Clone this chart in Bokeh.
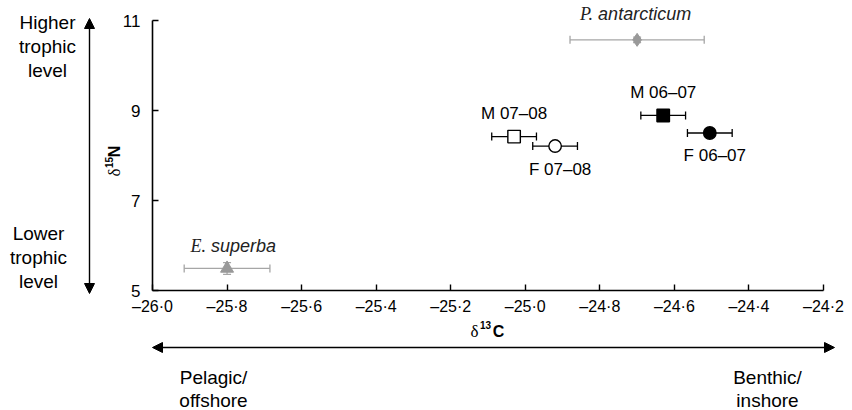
import math
from bokeh.plotting import figure
from bokeh.models import (ColumnDataSource, Whisker, TeeHead, Label, Arrow,
                          NormalHead, FixedTicker, Range1d)
from bokeh.embed import file_html
from bokeh.resources import INLINE

# Mean stable isotope values (± SE) for seals by sex and season
groups = ["M 07–08", "F 07–08", "M 06–07", "F 06–07"]
d13c = [-25.03, -24.92, -24.63, -24.505]
d15n = [8.42, 8.21, 8.89, 8.50]
d13c_err = [0.06, 0.06, 0.06, 0.06]
d15n_err = [0.06, 0.06, 0.06, 0.06]
markers = ["square", "circle", "square", "circle"]
fills = ["white", "white", "black", "black"]

# Prey species (genus initial, species name)
prey_genus = ["E.", "P."]
prey_species = ["superba", "antarcticum"]
prey_d13c = [-25.80, -24.70]
prey_d15n = [5.49, 10.57]
prey_d13c_err = [0.115, 0.18]
prey_d15n_err = [0.13, 0.06]
prey_markers = ["triangle", "diamond"]

x_ticks = [-26.0, -25.8, -25.6, -25.4, -25.2, -25.0, -24.8, -24.6, -24.4, -24.2]
x_tick_labels = ["–26·0", "–25·8", "–25·6", "–25·4", "–25·2",
                 "–25·0", "–24·8", "–24·6", "–24·4", "–24·2"]
y_ticks = [5, 7, 9, 11]

# axis extents and where they sit on the canvas
X0, X1 = -26.0, -24.2
Y0, Y1 = 5.0, 11.0
W, H = 852, 410
AX_LEFT, AX_RIGHT, AX_TOP, AX_BOTTOM = 152, 823, 20, 290
SX = (AX_RIGHT - AX_LEFT) / (X1 - X0)
SY = (AX_BOTTOM - AX_TOP) / (Y1 - Y0)
FONT = "Liberation Sans"
SERIF = "Liberation Serif"


def cx(px):
    """canvas pixel column -> data x"""
    return X0 + (px - AX_LEFT) / SX


def cy(py):
    """canvas pixel row -> data y"""
    return Y0 + (AX_BOTTOM - py) / SY


p = figure(width=W, height=H, output_backend="svg", toolbar_location=None,
           x_range=Range1d(cx(0), cx(W)), y_range=Range1d(cy(H), cy(0)),
           min_border=0)
p.outline_line_color = None
p.grid.visible = False
p.background_fill_color = "white"
p.border_fill_color = "white"

p.xaxis.fixed_location = Y0
p.yaxis.fixed_location = X0
p.xaxis.bounds = (X0, X1)
p.yaxis.bounds = (Y0, Y1)

for ax in (p.xaxis[0], p.yaxis[0]):
    ax.axis_line_color = "black"
    ax.axis_line_width = 1.6
    ax.major_tick_line_color = "black"
    ax.major_tick_line_width = 1.4
    ax.major_tick_in = 6
    ax.major_tick_out = 0
    ax.minor_tick_line_color = None
    ax.major_label_text_font = FONT
    ax.major_label_text_color = "black"

p.xaxis.ticker = FixedTicker(ticks=x_ticks)
p.xaxis.major_label_overrides = {t: l for t, l in zip(x_ticks, x_tick_labels)}
p.xaxis.major_label_text_font_size = "16px"
p.xaxis.major_label_standoff = 7
p.yaxis.ticker = FixedTicker(ticks=y_ticks)
p.yaxis.major_label_text_font_size = "17px"
p.yaxis.major_label_standoff = 12

# error bars (drawn beneath markers)
seal_src = ColumnDataSource(dict(
    x=d13c, y=d15n, group=groups, marker=markers, fill=fills,
    xl=[a - e for a, e in zip(d13c, d13c_err)], xu=[a + e for a, e in zip(d13c, d13c_err)],
    yl=[a - e for a, e in zip(d15n, d15n_err)], yu=[a + e for a, e in zip(d15n, d15n_err)]))
prey_src = ColumnDataSource(dict(
    x=prey_d13c, y=prey_d15n, marker=prey_markers,
    xl=[a - e for a, e in zip(prey_d13c, prey_d13c_err)],
    xu=[a + e for a, e in zip(prey_d13c, prey_d13c_err)],
    yl=[a - e for a, e in zip(prey_d15n, prey_d15n_err)],
    yu=[a + e for a, e in zip(prey_d15n, prey_d15n_err)]))

GREY = "#999999"
BAR_GREY = "#a6a6a6"
for src, col in ((seal_src, "black"), (prey_src, BAR_GREY)):
    for dim, base, lo, hi in (("width", "y", "xl", "xu"), ("height", "x", "yl", "yu")):
        w = Whisker(source=src, base=base, lower=lo, upper=hi, dimension=dim,
                    line_color=col, line_width=1.3, level="underlay",
                    upper_head=TeeHead(size=8, line_color=col, line_width=1.3),
                    lower_head=TeeHead(size=8, line_color=col, line_width=1.3))
        p.add_layout(w)

p.scatter("x", "y", source=seal_src, marker="marker", size=12.5,
          fill_color="fill", line_color="black", line_width=1.4)
p.scatter("x", "y", source=prey_src, marker="marker", size=13,
          fill_color=GREY, line_color=GREY, line_width=1)

# point labels
seal_offsets = [(0, 23), (5, -23), (0, 23), (5, -22)]
for g, x, y, (dx, dy) in zip(groups, d13c, d15n, seal_offsets):
    p.add_layout(Label(x=x, y=y, x_offset=dx, y_offset=dy, text=g,
                       text_font=FONT, text_font_size="17px", text_color="black",
                       text_align="center", text_baseline="middle"))

# species names: serif genus initial followed by sans species name
prey_split = [(-21, 22), (-44, 26)]
for gen, sp, x, y, (dx, dy) in zip(prey_genus, prey_species, prey_d13c, prey_d15n, prey_split):
    p.add_layout(Label(x=x, y=y, x_offset=dx, y_offset=dy, text=gen,
                       text_font=SERIF, text_font_size="18px", text_font_style="italic",
                       text_color="#222222", text_align="right", text_baseline="middle"))
    p.add_layout(Label(x=x, y=y, x_offset=dx + 5, y_offset=dy, text=sp,
                       text_font=FONT, text_font_size="18px", text_font_style="italic",
                       text_color="#222222", text_align="left", text_baseline="middle"))


def label(px, py, text, size="19px", style="normal", angle=0.0, font=FONT):
    p.add_layout(Label(x=cx(px), y=cy(py), text=text, text_font=font,
                       text_font_size=size, text_font_style=style, angle=angle,
                       text_color="black", text_align="center", text_baseline="middle"))


# axis titles built from pieces (delta, superscript mass number, element)
label(474, 331, "δ", "17px", font=SERIF)
label(485, 324, "13", "10px", "bold")
label(498, 331, "C", "16px", "bold")
label(114, 172, "δ", "17px", angle=math.pi / 2, font=SERIF)
label(108, 162, "15", "10px", "bold", angle=math.pi / 2)
label(114, 151, "N", "16px", "bold", angle=math.pi / 2)

# trophic-level guide
for i, t in enumerate(["Higher", "trophic", "level"]):
    label(47, 22 + 24 * i, t)
for i, t in enumerate(["Lower", "trophic", "level"]):
    label(38, 233 + 24 * i, t)
for i, t in enumerate(["Pelagic/", "offshore"]):
    label(213, 377 + 23 * i, t)
for i, t in enumerate(["Benthic/", "inshore"]):
    label(767, 377 + 23 * i, t)


def head():
    return NormalHead(size=10, fill_color="black", line_color="black", line_width=1)


p.add_layout(Arrow(x_start=cx(89), y_start=cy(293), x_end=cx(89), y_end=cy(18),
                   line_color="black", line_width=1.4, start=head(), end=head()))
p.add_layout(Arrow(x_start=cx(152), y_start=cy(347), x_end=cx(834), y_end=cy(347),
                   line_color="black", line_width=1.4, start=head(), end=head()))

open("out.html", "w").write(file_html(p, INLINE))
